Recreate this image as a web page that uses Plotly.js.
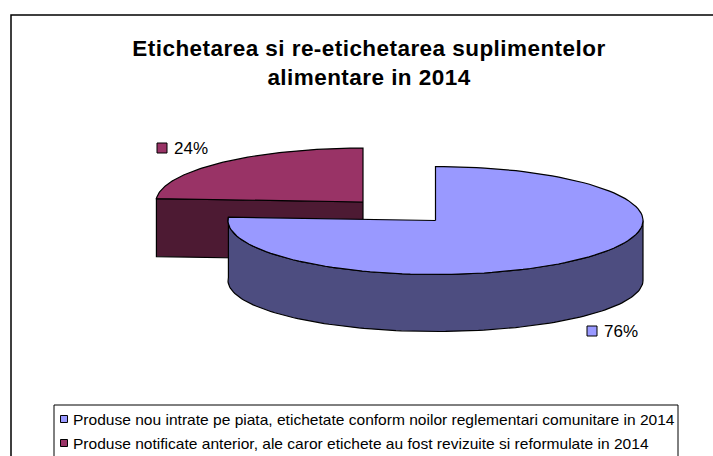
<!DOCTYPE html>
<html><head><meta charset="utf-8">
<script src="https://cdn.plot.ly/plotly-3.0.1.min.js"></script>
<style>html,body{margin:0;padding:0;background:#fff}#c{width:713px;height:456px}
.gtitle{letter-spacing:0.45px}</style>
</head><body><div id="c"></div>
<script>
// Data
var categories = [
  "Produse nou intrate pe piata, etichetate conform noilor reglementari comunitare in 2014",
  "Produse notificate anterior, ale caror etichete au fost revizuite si reformulate in 2014"
];
var shares = [76, 24];
var shareLabels = ["76%", "24%"];
var topColors = ["#9999ff", "#993366"];
var sideColors = ["#4d4d80", "#4d1a33"];
var titleLines = ["Etichetarea si re-etichetarea suplimentelor", "alimentare in 2014"];

// Layout geometry (pixel-like axis units, the axes span the window)
var W = 713, H = 456;
var discs = [
  {cx: 435.5, cy: 220.5, rx: 207.5, ry: 54, depth: 60, lowerRy: 51},
  {cx: 363, cy: 202, rx: 207, ry: 54, depth: 58, lowerRy: 54}
];
var labelAnchors = [{x: 592, y: 331}, {x: 162, y: 148}];
var legendRows = [{x: 64, y: 419}, {x: 64, y: 443}];
var FONT = "Liberation Sans, Arial, sans-serif";
var total = shares.reduce(function (a, b) { return a + b; }, 0);

function pt(d, deg, dz, ry) {
  var r = deg * Math.PI / 180;
  return [d.cx + d.rx * Math.sin(r), d.cy - (ry || d.ry) * Math.cos(r) + (dz || 0)];
}
function arc(d, a0, a1, dz, ry) {
  var out = [], n = 120;
  for (var i = 0; i <= n; i++) out.push(pt(d, a0 + (a1 - a0) * i / n, dz, ry));
  return out;
}
function poly(points, fill) {
  return {
    type: "scatter", mode: "lines", fill: "toself", fillcolor: fill,
    x: points.map(function (p) { return p[0]; }),
    y: points.map(function (p) { return p[1]; }),
    line: {color: "#000", width: 1.2}, hoverinfo: "skip", showlegend: false
  };
}

// slice angles from the shares
var angles = [], acc = 0;
shares.forEach(function (s) {
  angles.push([acc / total * 360, (acc + s) / total * 360]);
  acc += s;
});

var traces = [];
// small slice (behind)
(function () {
  var d = discs[1], a = angles[1], c = [d.cx, d.cy], e = pt(d, a[0]);
  traces.push(poly([c, e, [e[0], e[1] + d.depth], [c[0], c[1] + d.depth], c], sideColors[1]));
  traces.push(poly([c].concat(arc(d, a[0], a[1])).concat([c]), topColors[1]));
})();
// big slice (front)
(function () {
  var d = discs[0], a = angles[0], c = [d.cx, d.cy];
  var upper = arc(d, 90, a[1]), lower = arc(d, a[1], 90, d.depth, d.lowerRy);
  traces.push(poly(upper.concat(lower).concat([upper[0]]), sideColors[0]));
  traces.push(poly([c].concat(arc(d, a[0], a[1])).concat([c]), topColors[0]));
})();

// data label swatches
traces.push({
  type: "scatter", mode: "markers",
  x: labelAnchors.map(function (p) { return p.x; }),
  y: labelAnchors.map(function (p) { return p.y; }),
  marker: {symbol: "square", size: 10, color: topColors, line: {color: "#000", width: 1}},
  hoverinfo: "skip", showlegend: false, cliponaxis: false
});
// legend swatches
traces.push({
  type: "scatter", mode: "markers",
  x: legendRows.map(function (p) { return p.x; }),
  y: legendRows.map(function (p) { return p.y; }),
  marker: {symbol: "square", size: 7, color: topColors, line: {color: "#000", width: 1}},
  hoverinfo: "skip", showlegend: false
});

var notes = categories.map(function (c, i) {
  return {
    text: c, x: 73, y: legendRows[i].y, xref: "x", yref: "y",
    xanchor: "left", yanchor: "middle", showarrow: false, borderpad: 0, borderwidth: 0,
    font: {family: FONT, size: 15.55, color: "#000"}
  };
}).concat(shareLabels.map(function (t, i) {
  return {
    text: t, x: labelAnchors[i].x + 12, y: labelAnchors[i].y, xref: "x", yref: "y",
    xanchor: "left", yanchor: "middle", showarrow: false, borderpad: 0, borderwidth: 0,
    font: {family: FONT, size: 17, color: "#000"}
  };
}));

var layout = {
  width: W, height: H, margin: {l: 0, r: 0, t: 0, b: 0},
  paper_bgcolor: "#fff", plot_bgcolor: "#fff", showlegend: false,
  xaxis: {range: [0, W], visible: false, fixedrange: true},
  yaxis: {range: [H, 0], visible: false, fixedrange: true},
  title: {
    text: titleLines.join("<br>"),
    font: {family: FONT, size: 22.5, color: "#000", weight: 700},
    x: 369 / W, xanchor: "center", y: 1 - 55.5 / H, yanchor: "middle"
  },
  shapes: [
    {type: "rect", layer: "below", x0: 11, x1: W + 20, y0: 15, y1: H + 20, line: {color: "#000", width: 1.5}},
    {type: "rect", layer: "below", x0: 54, x1: 678, y0: 405, y1: H + 20, fillcolor: "#fff", line: {color: "#000", width: 1}}
  ],
  annotations: notes
};
Plotly.newPlot("c", traces, layout, {displayModeBar: false, staticPlot: true});
</script></body></html>
